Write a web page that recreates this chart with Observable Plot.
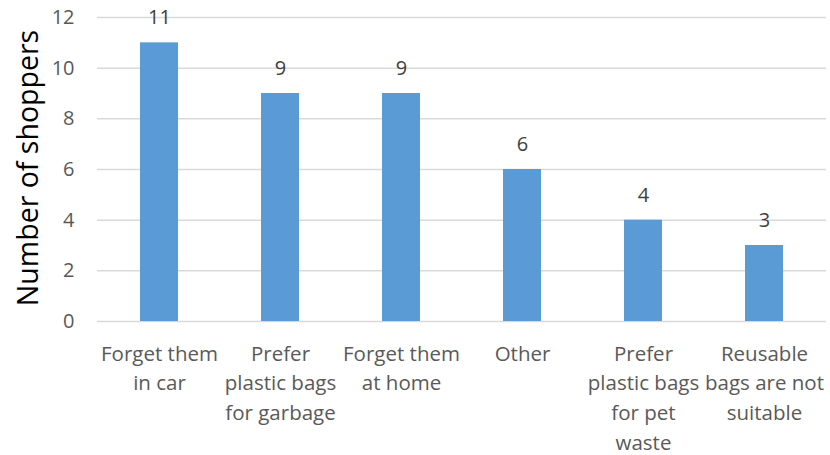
<!DOCTYPE html>
<html>
<head>
<meta charset="utf-8">
<script src="https://cdn.jsdelivr.net/npm/d3@7"></script>
<script src="https://cdn.jsdelivr.net/npm/@observablehq/plot@0.6"></script>
<style>
  html, body { margin: 0; padding: 0; background: #fff; }
  #chart svg { display: block; }
</style>
</head>
<body>
<div id="chart"></div>
<script>
// Reasons shoppers give for not bringing reusable bags
const reasons = [
  "Forget them\nin car",
  "Prefer\nplastic bags\nfor garbage",
  "Forget them\nat home",
  "Other",
  "Prefer\nplastic bags\nfor pet\nwaste",
  "Reusable\nbags are not\nsuitable"
];
const shoppers = [11, 9, 9, 6, 4, 3];
const yTicks = [0, 2, 4, 6, 8, 10, 12];
const yLabel = "Number of shoppers";

const data = reasons.map((reason, i) => ({reason, count: shoppers[i]}));

const font = "'Open Sans', sans-serif";

const chart = Plot.plot({
  width: 830,
  height: 455,
  marginTop: 17,
  marginBottom: 134,
  marginLeft: 97,
  marginRight: 4,
  style: {fontFamily: font, background: "#fff"},
  x: {domain: reasons, paddingInner: 0.686, paddingOuter: 0.343, axis: null},
  y: {domain: [0, 12], axis: null},
  marks: [
    Plot.ruleY(yTicks, {stroke: "#d9d9d9", strokeWidth: 1.5}),
    Plot.barY(data, {x: "reason", y: "count", fill: "#5b9bd5"}),
    // value labels above each bar
    Plot.text(data, {
      x: "reason", y: "count", text: d => String(d.count),
      dy: -25, fill: "#404040", fontSize: 20, lineAnchor: "middle"
    }),
    // y tick labels at the left edge of the frame
    Plot.text(yTicks, {
      y: d => d, text: d => String(d),
      frameAnchor: "left", dx: -23, textAnchor: "end", lineAnchor: "middle",
      fill: "#595959", fontSize: 20
    }),
    // category labels under the axis
    Plot.text(data, {
      x: "reason", y: 0, text: "reason",
      dy: 18, lineAnchor: "top", lineHeight: 1.45,
      fill: "#595959", fontSize: 20.5
    })
  ]
});

// rotated y-axis title
const svgNS = "http://www.w3.org/2000/svg";
const title = document.createElementNS(svgNS, "text");
title.setAttribute("transform", "translate(27,168) rotate(-90)");
title.setAttribute("text-anchor", "middle");
title.setAttribute("dominant-baseline", "central");
title.setAttribute("font-size", "28.5");
title.setAttribute("font-family", font);
title.setAttribute("fill", "#000");
title.textContent = yLabel;
chart.appendChild(title);

document.getElementById("chart").appendChild(chart);
</script>
</body>
</html>
